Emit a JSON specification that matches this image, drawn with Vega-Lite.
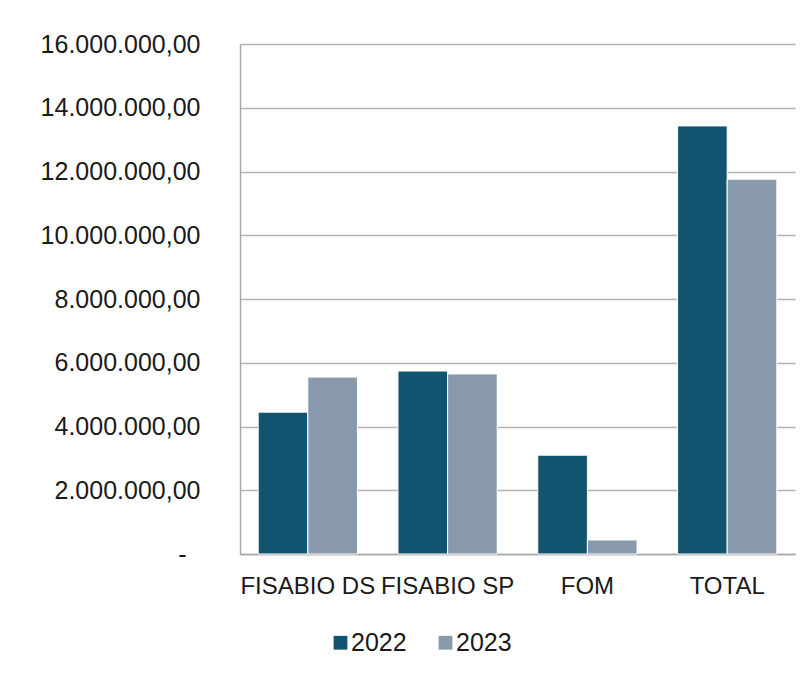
{
  "$schema": "https://vega.github.io/schema/vega-lite/v6.json",
  "autosize": {"type": "none"},
  "width": 555,
  "height": 510,
  "padding": {"left": 240, "top": 44, "right": 12, "bottom": 119},
  "background": "white",
  "data": {
    "values": [
      {"entidad": "FISABIO DS", "year": "2022", "valor": 4450000},
      {"entidad": "FISABIO DS", "year": "2023", "valor": 5550000},
      {"entidad": "FISABIO SP", "year": "2022", "valor": 5740000},
      {"entidad": "FISABIO SP", "year": "2023", "valor": 5650000},
      {"entidad": "FOM", "year": "2022", "valor": 3100000},
      {"entidad": "FOM", "year": "2023", "valor": 440000},
      {"entidad": "TOTAL", "year": "2022", "valor": 13430000},
      {"entidad": "TOTAL", "year": "2023", "valor": 11760000}
    ]
  },
  "mark": {"type": "bar", "stroke": "white", "strokeWidth": 1},
  "encoding": {
    "x": {
      "field": "entidad",
      "type": "nominal",
      "sort": ["FISABIO DS", "FISABIO SP", "FOM", "TOTAL"],
      "scale": {"paddingInner": 0.29, "paddingOuter": 0.13},
      "axis": {
        "title": null,
        "labelAngle": 0,
        "ticks": false,
        "labelPadding": 20,
        "labelFontSize": 24,
        "labelFont": "Liberation Sans",
        "labelColor": "#1a1a1a",
        "domainColor": "#a6a6a6",
        "domainWidth": 1.5
      }
    },
    "xOffset": {"field": "year", "type": "nominal", "scale": {"paddingInner": 0}},
    "y": {
      "field": "valor",
      "type": "quantitative",
      "scale": {"domain": [0, 16000000], "nice": false},
      "axis": {
        "title": null,
        "values": [0, 2000000, 4000000, 6000000, 8000000, 10000000, 12000000, 14000000, 16000000],
        "labelExpr": "datum.value == 0 ? '-' : format(datum.value / 1000000, 'd') + '.000.000,00'",
        "ticks": false,
        "labelPadding": {"condition": {"test": "datum.value == 0", "value": 54}, "value": 40},
        "labelFontSize": 25,
        "labelFont": "Liberation Sans",
        "labelColor": "#1a1a1a",
        "domainColor": "#a6a6a6",
        "domainWidth": 1.5,
        "grid": true,
        "gridColor": "#b3b3b3",
        "gridWidth": 1.5
      }
    },
    "color": {
      "field": "year",
      "type": "nominal",
      "scale": {"domain": ["2022", "2023"], "range": ["#12536f", "#8799ab"]},
      "legend": {
        "title": null,
        "orient": "none",
        "direction": "horizontal",
        "legendX": 88,
        "legendY": 586,
        "symbolType": "square",
        "symbolSize": 190,
        "symbolStrokeWidth": 0,
        "labelFontSize": 25,
        "labelFont": "Liberation Sans",
        "labelColor": "#1a1a1a",
        "columnPadding": 26,
        "labelOffset": -2
      }
    }
  },
  "config": {"view": {"stroke": null}}
}
